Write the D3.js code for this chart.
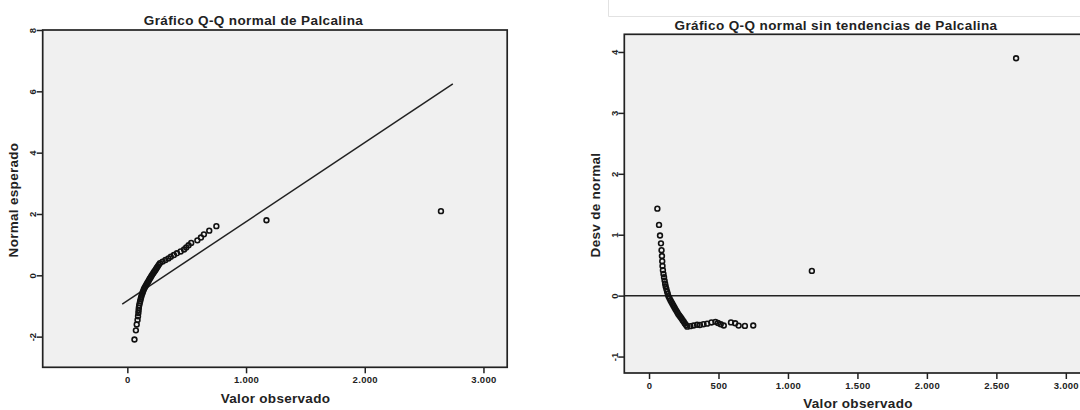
<!DOCTYPE html>
<html>
<head>
<meta charset="utf-8">
<script src="https://cdn.jsdelivr.net/npm/d3@7/dist/d3.min.js"></script>
<style>
  html, body { margin: 0; padding: 0; background: #ffffff; }
  svg { display: block; }
  text { font-family: "Liberation Sans", Arial, sans-serif; font-weight: bold; fill: #222; }
</style>
</head>
<body>
<svg id="chart" width="1080" height="410"></svg>
<script>
// Observed values of Palcalina, sorted ascending (n = 54)
const observed = [
  60, 72, 79, 86, 90, 93, 95, 97, 100, 104, 108, 112, 116, 120, 125, 130, 135,
  140, 147, 154, 161, 168, 175, 182, 189, 196, 203, 210, 218, 226, 234, 242, 250, 258, 266, 275,
  297, 321, 346, 366, 392, 418, 449, 478, 496, 516, 538, 590, 620, 645, 690, 750,
  1172, 2642
];

// Expected normal scores for each rank
const expectedNormal = [
  -2.093, -1.795, -1.603, -1.456, -1.335, -1.231, -1.140, -1.057, -0.980, -0.908, -0.842, -0.778, -0.718, -0.660, -0.605, -0.551, -0.498,
  -0.447, -0.398, -0.349, -0.301, -0.253, -0.207, -0.160, -0.114, -0.068, -0.023, 0.023, 0.068, 0.114, 0.160, 0.207, 0.253, 0.301, 0.349, 0.398,
  0.447, 0.498, 0.551, 0.605, 0.660, 0.718, 0.778, 0.842, 0.908, 0.980, 1.057, 1.140, 1.231, 1.335, 1.456, 1.603,
  1.795, 2.093
];

// Deviation from normal for each rank (detrended plot)
const deviation = [
  1.428, 1.161, 0.987, 0.858, 0.747, 0.651, 0.565, 0.487, 0.418, 0.356, 0.301, 0.247, 0.197, 0.150, 0.108, 0.066, 0.026,
  -0.012, -0.043, -0.074, -0.104, -0.134, -0.162, -0.191, -0.218, -0.246, -0.273, -0.301, -0.326, -0.351, -0.376, -0.403, -0.428, -0.456, -0.483, -0.509,
  -0.501, -0.490, -0.479, -0.481, -0.469, -0.460, -0.440, -0.430, -0.449, -0.470, -0.490, -0.439, -0.453, -0.492, -0.497, -0.490,
  0.406, 3.897
];

// Reference line of the normal Q-Q plot (two end points)
const refLineX = [-43, 2742];
const refLineY = [-0.94, 6.24];

// Tick values
const qqXTicks = [0, 1000, 2000, 3000];
const qqYTicks = [-2, 0, 2, 4, 6, 8];
const detXTicks = [0, 500, 1000, 1500, 2000, 2500, 3000];
const detYTicks = [-1, 0, 1, 2, 3, 4];

// Texts
const qqTitle = "Gráfico Q-Q normal de Palcalina";
const detTitle = "Gráfico Q-Q normal sin tendencias de Palcalina";
const xLabel = "Valor observado";
const qqYLabel = "Normal esperado";
const detYLabel = "Desv de normal";

const esLocale = d3.formatLocale({ decimal: ",", thousands: ".", grouping: [3], currency: ["", " €"], minus: "-" });
const fmtThousands = esLocale.format(",");
const fmtInt = esLocale.format("d");

const svg = d3.select("#chart");

// Light frame at the top right
svg.append("path")
  .attr("d", "M608.5,0 V16.5 H1080")
  .attr("fill", "none")
  .attr("stroke", "#e2e2e2")
  .attr("stroke-width", 1);

function panel(opts) {
  const g = svg.append("g");
  const x = d3.scaleLinear().domain(opts.xDomain).range(opts.xRange);
  const y = d3.scaleLinear().domain(opts.yDomain).range(opts.yRange);

  // plot area
  g.append("rect")
    .attr("x", opts.xRange[0]).attr("y", opts.yRange[1])
    .attr("width", opts.xRange[1] - opts.xRange[0])
    .attr("height", opts.yRange[0] - opts.yRange[1])
    .attr("fill", "#f0f0f0");

  // axes
  const ax = g.append("g")
    .attr("transform", `translate(0,${opts.yRange[0]})`)
    .call(d3.axisBottom(x).tickValues(opts.xTicks).tickFormat(d => d === 0 ? "0" : fmtThousands(d)).tickSize(6).tickSizeOuter(0).tickPadding(3));
  ax.select(".domain").remove();
  ax.selectAll(".tick line").attr("stroke", "#222").attr("stroke-width", 1.5);
  ax.selectAll(".tick text")
    .attr("font-size", 9.5).attr("letter-spacing", 0.3)
    .attr("fill", "#222").attr("font-family", null);

  const ay = g.append("g")
    .attr("transform", `translate(${opts.xRange[0]},0)`)
    .call(d3.axisLeft(y).tickValues(opts.yTicks).tickFormat(fmtInt).tickSize(6).tickSizeOuter(0));
  ay.select(".domain").remove();
  ay.selectAll(".tick line").attr("stroke", "#222").attr("stroke-width", 1.5);
  ay.selectAll(".tick text")
    .attr("font-size", 9.5).attr("fill", "#222").attr("font-family", null)
    .attr("x", null).attr("dy", null)
    .attr("text-anchor", "middle")
    .attr("transform", "translate(-6.5,0) rotate(-90)");

  // plot frame
  g.append("rect")
    .attr("x", opts.xRange[0]).attr("y", opts.yRange[1])
    .attr("width", opts.xRange[1] - opts.xRange[0])
    .attr("height", opts.yRange[0] - opts.yRange[1])
    .attr("fill", "none")
    .attr("stroke", "#222")
    .attr("stroke-width", 1.7);

  // titles
  g.append("text")
    .attr("x", opts.titlePos[0]).attr("y", opts.titlePos[1])
    .attr("text-anchor", "middle").attr("font-size", 13.5).attr("letter-spacing", 0.4)
    .text(opts.title);
  g.append("text")
    .attr("x", opts.xLabelPos[0]).attr("y", opts.xLabelPos[1])
    .attr("text-anchor", "middle").attr("font-size", 13.5).attr("letter-spacing", 0.3)
    .text(xLabel);
  g.append("text")
    .attr("transform", `translate(${opts.yLabelPos[0]},${opts.yLabelPos[1]}) rotate(-90)`)
    .attr("text-anchor", "middle").attr("font-size", 13.5).attr("letter-spacing", 0.3)
    .text(opts.yLabel);

  return { g, x, y };
}

// ---- Normal Q-Q plot ----
const qq = panel({
  xDomain: [-713, 3200], xRange: [42.7, 507.2],
  yDomain: [-3, 8], yRange: [367.3, 30],
  xTicks: qqXTicks, yTicks: qqYTicks,
  title: qqTitle, titlePos: [253.5, 24.5],
  xLabelPos: [275.5, 403],
  yLabel: qqYLabel, yLabelPos: [18, 200]
});

qq.g.append("line")
  .attr("x1", qq.x(refLineX[0])).attr("y1", qq.y(refLineY[0]))
  .attr("x2", qq.x(refLineX[1])).attr("y2", qq.y(refLineY[1]))
  .attr("stroke", "#222").attr("stroke-width", 1.5);

qq.g.append("g").selectAll("circle")
  .data(observed.map((v, i) => [v, expectedNormal[i]]))
  .join("circle")
  .attr("cx", d => qq.x(d[0]))
  .attr("cy", d => qq.y(d[1]))
  .attr("r", 2.4)
  .attr("fill", "none")
  .attr("stroke", "#111")
  .attr("stroke-width", 1.6);

// ---- Detrended normal Q-Q plot ----
const det = panel({
  xDomain: [-178, 3210], xRange: [624.3, 1095],
  yDomain: [-1.27, 4.29], yRange: [373, 34.3],
  xTicks: detXTicks, yTicks: detYTicks,
  title: detTitle, titlePos: [836, 29.5],
  xLabelPos: [858, 408],
  yLabel: detYLabel, yLabelPos: [599.5, 205]
});

det.g.append("line")
  .attr("x1", det.x.range()[0]).attr("x2", det.x.range()[1])
  .attr("y1", det.y(0)).attr("y2", det.y(0))
  .attr("stroke", "#222").attr("stroke-width", 1.5);

det.g.append("g").selectAll("circle")
  .data(observed.map((v, i) => [v, deviation[i]]))
  .join("circle")
  .attr("cx", d => det.x(d[0]))
  .attr("cy", d => det.y(d[1]))
  .attr("r", 2.4)
  .attr("fill", "none")
  .attr("stroke", "#111")
  .attr("stroke-width", 1.6);
</script>
</body>
</html>
